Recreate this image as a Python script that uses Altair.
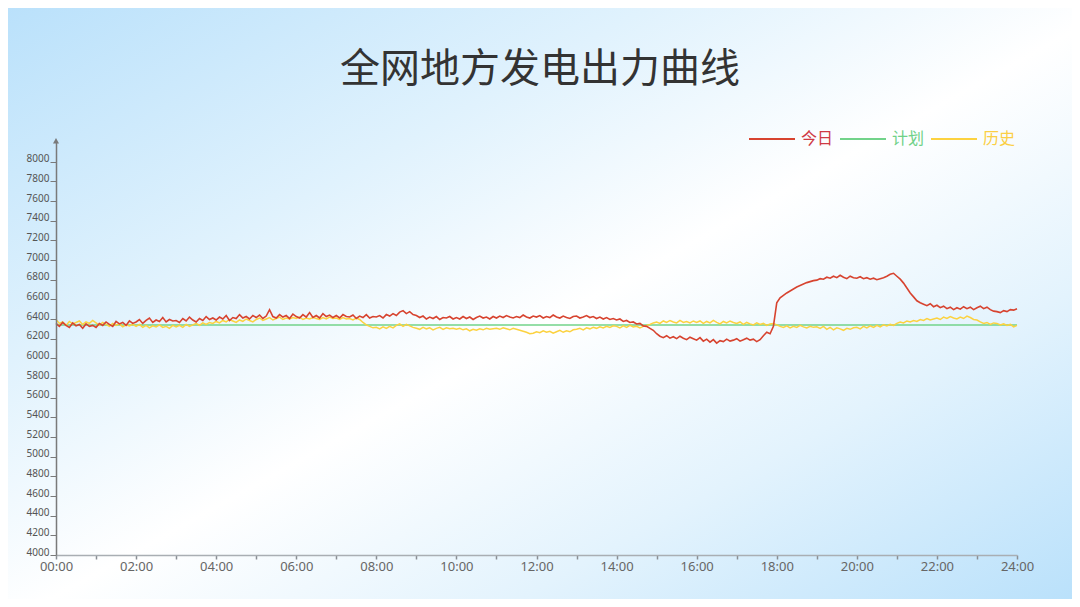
import altair as alt
import pandas as pd

TITLE = "全网地方发电出力曲线"
SERIES = ["今日", "计划", "历史"]
COLORS = ["#d7432f", "#72d38a", "#fcd240"]
TEXT_COLORS = ["#cf3a44", "#6fd188", "#fbcf45"]

# 5-minute samples, 00:00 .. 24:00
today = [
    6355, 6325, 6365, 6335, 6315, 6360, 6330, 6345, 6305, 6350, 6325, 6335,
    6315, 6355, 6335, 6370, 6345, 6325, 6375, 6350, 6365, 6335, 6380, 6355,
    6370, 6395, 6355, 6385, 6410, 6365, 6390, 6375, 6415, 6370, 6395, 6380,
    6385, 6365, 6405, 6380, 6420, 6390, 6370, 6405, 6385, 6425, 6395, 6410,
    6390, 6420, 6400, 6435, 6385, 6415, 6405, 6445, 6410, 6425, 6400, 6435,
    6415, 6440, 6405, 6430, 6495, 6425, 6410, 6445, 6420, 6435, 6405, 6450,
    6425, 6410, 6445, 6420, 6465, 6415, 6435, 6410, 6455, 6425, 6440, 6415,
    6435, 6410, 6445, 6425, 6420, 6440, 6405, 6430, 6415, 6445, 6410, 6425,
    6420, 6435, 6410, 6445, 6430, 6455, 6435, 6470, 6485, 6455, 6475, 6445,
    6435, 6415, 6430, 6400, 6420, 6405, 6425, 6395, 6415, 6410, 6425, 6400,
    6415, 6400, 6425, 6405, 6420, 6395, 6415, 6430, 6410, 6420, 6400, 6425,
    6410, 6430, 6415, 6435, 6420, 6410, 6425, 6415, 6440, 6420, 6410, 6430,
    6420, 6435, 6410, 6425, 6415, 6440, 6420, 6410, 6430, 6415, 6405, 6425,
    6430, 6410, 6420, 6435, 6415, 6425, 6405, 6420, 6400, 6415, 6395, 6405,
    6390, 6400, 6375, 6385, 6365, 6370, 6350, 6355, 6330, 6325, 6305, 6285,
    6250, 6225, 6210, 6230, 6205, 6220, 6200, 6225, 6205, 6190, 6215, 6200,
    6185, 6210, 6175, 6195, 6165, 6190, 6155, 6180, 6170, 6195, 6175, 6185,
    6200, 6175, 6190, 6205, 6185, 6195, 6170, 6190, 6230, 6265, 6250, 6325,
    6565, 6615, 6640, 6665, 6685, 6705, 6725, 6740, 6755, 6770, 6780, 6790,
    6795, 6810, 6805, 6825, 6815, 6835, 6820, 6845, 6825, 6810, 6835, 6820,
    6815, 6830, 6810, 6820, 6805, 6815, 6800, 6810, 6820, 6835, 6855, 6865,
    6835, 6805, 6765, 6715, 6665, 6625, 6585, 6565, 6550, 6535, 6555, 6525,
    6540, 6515, 6530, 6505, 6520, 6495, 6515, 6500, 6525, 6505, 6520, 6495,
    6515, 6530, 6505, 6520, 6495, 6480, 6475, 6465, 6485, 6475, 6495, 6490,
    6505,
]

history = [
    6395, 6355, 6370, 6335, 6375, 6350, 6365, 6380, 6345, 6370, 6355, 6385,
    6360, 6335, 6365, 6345, 6325, 6355, 6335, 6350, 6320, 6340, 6330, 6345,
    6325, 6345, 6315, 6335, 6310, 6330, 6320, 6340, 6315, 6325, 6305, 6335,
    6320, 6335, 6315, 6345, 6325, 6340, 6355, 6335, 6360, 6345, 6365, 6355,
    6375, 6360, 6385, 6370, 6395, 6380, 6365, 6390, 6375, 6400, 6385, 6370,
    6395, 6410, 6385, 6400, 6415, 6390, 6405, 6420, 6395, 6410, 6400, 6415,
    6405, 6420, 6395, 6410, 6400, 6415, 6405, 6395, 6415, 6400, 6420, 6405,
    6410, 6395, 6415, 6400, 6405, 6390, 6410, 6395, 6365, 6340, 6325, 6310,
    6315, 6300, 6320, 6305, 6325, 6310, 6335, 6350, 6325, 6345, 6330, 6315,
    6305, 6295, 6315, 6300, 6310, 6290, 6305, 6315, 6295, 6310, 6300, 6305,
    6295, 6305, 6290, 6300, 6280, 6295, 6285, 6300, 6290, 6305, 6295, 6300,
    6305, 6295, 6310, 6300, 6290, 6305, 6295, 6285, 6275, 6265, 6250, 6255,
    6270, 6260, 6280, 6265, 6275, 6255, 6270, 6285, 6265, 6280, 6270, 6290,
    6295, 6305, 6290, 6310, 6300, 6315, 6305, 6320, 6310, 6325, 6315, 6330,
    6325, 6310, 6330, 6315, 6335, 6320, 6325, 6310, 6325, 6335, 6345, 6360,
    6370, 6355, 6380, 6365, 6385, 6370, 6360, 6385, 6365, 6375, 6360, 6380,
    6365, 6380, 6355, 6375, 6360, 6385, 6365, 6350, 6375, 6360, 6380, 6365,
    6355, 6370, 6345, 6365, 6350, 6340, 6360, 6345, 6355, 6335, 6350, 6355,
    6340, 6325, 6315, 6330, 6310, 6325, 6315, 6335, 6320, 6310, 6325, 6315,
    6320, 6305, 6325, 6295, 6315, 6290, 6310, 6300, 6285, 6305, 6295, 6310,
    6315, 6300, 6325, 6310, 6330, 6315, 6335, 6320, 6340, 6330, 6345, 6335,
    6355, 6370, 6360, 6380, 6370, 6385, 6375, 6395, 6385, 6405, 6390, 6400,
    6410, 6395, 6420, 6405, 6425, 6410, 6400, 6420, 6405, 6430, 6415, 6395,
    6390, 6370, 6355, 6365, 6345, 6360, 6355, 6340, 6350, 6335, 6345, 6320,
    6335,
]

plan_hours = [0, 3, 6, 9, 12, 15, 18, 21, 24]
plan = [6340, 6340, 6340, 6340, 6340, 6340, 6340, 6340, 6340]

y_ticks = [4000, 4200, 4400, 4600, 4800, 5000, 5200, 5400, 5600, 5800, 6000,
           6200, 6400, 6600, 6800, 7000, 7200, 7400, 7600, 7800, 8000]

rows = []
for i, v in enumerate(today):
    rows.append({"t": i * 5, "v": v, "s": SERIES[0]})
for h, v in zip(plan_hours, plan):
    rows.append({"t": h * 60, "v": v, "s": SERIES[1]})
for i, v in enumerate(history):
    rows.append({"t": i * 5, "v": v, "s": SERIES[2]})
df = pd.DataFrame(rows)

legend_df = pd.DataFrame({"s": SERIES, "i": [0, 1, 2], "tc": TEXT_COLORS})

W, H = 961, 413
PAD_L, PAD_T = 48, 134
PAGE_W, PAGE_H = 1064, 591
FONT = "Noto Sans CJK SC"

x_enc = alt.X(
    "t:Q",
    scale=alt.Scale(domain=[0, 1440], nice=False, zero=False),
    axis=alt.Axis(
        title=None,
        values=list(range(0, 1441, 60)),
        labelExpr="datum.value % 120 == 0 ? ((datum.value/60 < 10 ? '0' : '') + (datum.value/60) + ':00') : ''",
        grid=False,
        domainColor="#a9aeb3",
        domainWidth=1.5,
        tickColor="#8a8f94",
        tickSize=4,
        tickWidth=1.5,
        labelFont="Noto Sans",
        labelFontSize=13,
        labelColor="#666666",
        labelPadding=1,
        labelFlush=False,
        labelOverlap=False,
        zindex=1,
    ),
)
y_enc = alt.Y(
    "v:Q",
    scale=alt.Scale(domain=[4000, 8200], nice=False, zero=False),
    axis=alt.Axis(
        title=None,
        values=y_ticks,
        format="d",
        grid=False,
        domainColor="#7a7a7a",
        domainWidth=1.5,
        tickColor="#7a7a7a",
        tickSize=6,
        tickWidth=1,
        labelFont="Noto Sans",
        labelFontSize=10,
        labelColor="#555555",
        labelPadding=1,
        labelBaseline="alphabetic",
        labelOverlap=False,
        zindex=1,
    ),
)

color_scale = alt.Scale(domain=SERIES, range=COLORS)


def series_layer(name, width):
    return (
        alt.Chart(df)
        .transform_filter(alt.datum.s == name)
        .mark_line(strokeWidth=width, interpolate="linear")
        .encode(
            x=x_enc,
            y=y_enc,
            color=alt.Color("s:N", scale=color_scale, legend=None),
        )
    )


bg = (
    alt.Chart(alt.Data(values=[{"k": 0}]))
    .mark_rect(
        fill=alt.LinearGradient(
            gradient="linear",
            x1=0, y1=0, x2=1, y2=1,
            stops=[
                alt.GradientStop(color="#bae1fb", offset=0),
                alt.GradientStop(color="#e0f2fd", offset=0.3),
                alt.GradientStop(color="#ffffff", offset=0.52),
                alt.GradientStop(color="#e3f3fd", offset=0.74),
                alt.GradientStop(color="#bae1fb", offset=1),
            ],
        ),
        strokeWidth=0,
    )
    .encode(
        x=alt.value(-PAD_L),
        x2=alt.value(PAGE_W - PAD_L),
        y=alt.value(-PAD_T),
        y2=alt.value(PAGE_H - PAD_T),
    )
)

arrow = (
    alt.Chart(alt.Data(values=[{"k": 0}]))
    .mark_point(shape="M-1,1L0,-0.8L1,1Z", filled=True, size=36, color="#7a7a7a", opacity=1)
    .encode(x=alt.value(0), y=alt.value(-1.6))
)

title = (
    alt.Chart(alt.Data(values=[{"label": TITLE}]))
    .mark_text(font=FONT, fontSize=40, color="#333333", align="center", baseline="middle")
    .encode(text="label:N", x=alt.value(484), y=alt.value(-72))
)

# manual legend (top right)
LEG_X0, LEG_STEP, LEG_SYM, LEG_Y = 693, 91, 46, -3
leg_base = alt.Chart(legend_df).transform_calculate(
    x0=f"{LEG_X0} + datum.i * {LEG_STEP}",
    x1=f"{LEG_X0} + datum.i * {LEG_STEP} + {LEG_SYM}",
    xt=f"{LEG_X0} + datum.i * {LEG_STEP} + {LEG_SYM} + 6",
)
leg_lines = leg_base.mark_rule(strokeWidth=2).encode(
    x=alt.X("x0:Q", scale=None),
    x2="x1:Q",
    y=alt.value(LEG_Y),
    color=alt.Color("s:N", scale=color_scale, legend=None),
)
leg_text = leg_base.mark_text(font=FONT, fontSize=16, align="left", baseline="middle").encode(
    x=alt.X("xt:Q", scale=None),
    y=alt.value(LEG_Y),
    text="s:N",
    color=alt.Color("tc:N", scale=None, legend=None),
)

chart = (
    alt.layer(
        bg,
        title,
        series_layer(SERIES[1], 1.5),
        series_layer(SERIES[2], 1.5),
        series_layer(SERIES[0], 1.6),
        arrow,
        leg_lines,
        leg_text,
    )
    .properties(
        width=W,
        height=H,
        autosize=alt.AutoSizeParams(type="none"),
        padding={"left": PAD_L, "top": PAD_T, "right": PAGE_W - PAD_L - W, "bottom": PAGE_H - PAD_T - H},
    )
    .configure_view(stroke=None)
    .configure(background="#ffffff")
)

chart.save("out.html", embed_options={"renderer": "svg", "actions": False})
